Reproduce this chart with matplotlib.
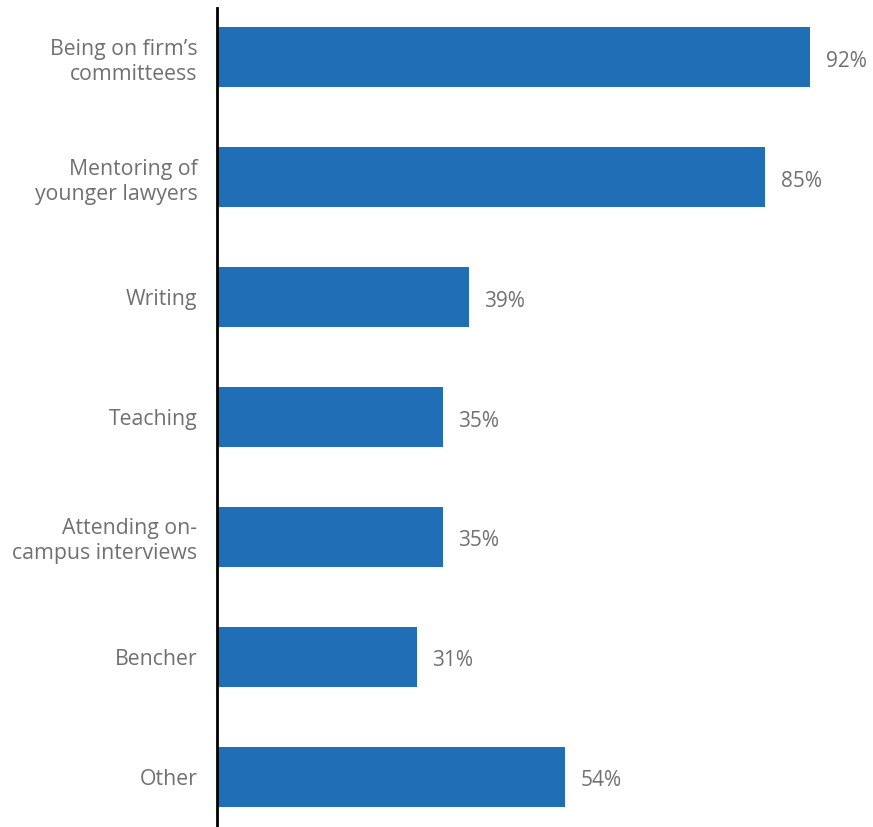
import matplotlib.pyplot as plt

plt.rcParams['font.family'] = ['Open Sans', 'DejaVu Sans']

categories = [
    "Being on firm\u2019s\ncommitteess",
    "Mentoring of\nyounger lawyers",
    "Writing",
    "Teaching",
    "Attending on-\ncampus interviews",
    "Bencher",
    "Other",
]
values = [92, 85, 39, 35, 35, 31, 54]

bar_color = "#1f6eb6"
text_color = "#707070"

fig = plt.figure(figsize=(8.73, 8.27), dpi=100)
ax = fig.add_axes([217 / 873, 0.0, 645 / 873, 819 / 827])

y = list(range(len(categories)))
ax.barh(y, values, height=0.5, color=bar_color, zorder=2)

for yi, v in zip(y, values):
    ax.annotate(f"{v}%", (v, yi), xytext=(11, -3), textcoords="offset points",
                ha="left", va="center", fontsize=15, color=text_color)

ax.set_yticks(y)
ax.set_yticklabels(categories, fontsize=15.3, color=text_color, linespacing=1.25)
ax.tick_params(axis="y", length=0, pad=14)
ax.set_xticks([])
ax.set_xlim(0, 100)
ax.set_ylim(6.42, -0.41)

for side in ["top", "right", "bottom"]:
    ax.spines[side].set_visible(False)
ax.spines["left"].set_linewidth(2)
ax.spines["left"].set_color("black")

fig.savefig("out.png", dpi=100)
